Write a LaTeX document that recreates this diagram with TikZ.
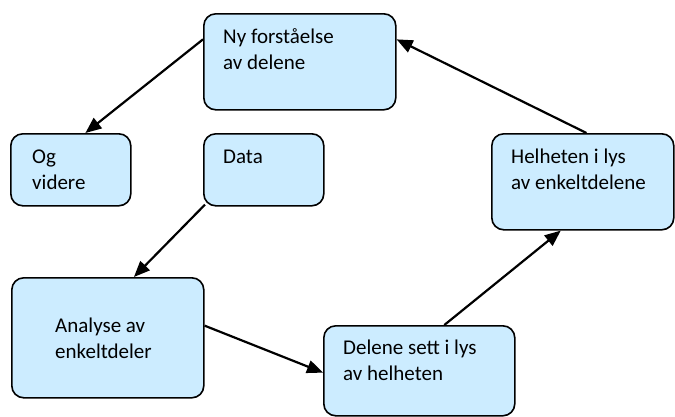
\documentclass[tikz,border=0pt]{standalone}
\usepackage{fontspec}
\setmainfont{Carlito}
\usetikzlibrary{arrows.meta,calc}
\definecolor{boxfill}{RGB}{204,236,255}
\tikzset{
  box/.style={draw=black, line width=1.6pt, fill=boxfill, rounded corners=12pt, inner sep=0pt, anchor=north west},
  lbl/.style={anchor=base west, inner sep=0pt, font=\fontsize{21}{26}\selectfont, align=left},
  conn/.style={line width=2.2pt, -{Triangle[length=16pt,width=13pt]}}
}
\begin{document}
\begin{tikzpicture}[x=1pt,y=-1pt]
\useasboundingbox (0,0) rectangle (675,416);
% boxes
\node[box, minimum width=192pt, minimum height=96pt] (ny) at (203,13) {};
\node[box, minimum width=120pt, minimum height=72pt] (og) at (10,133) {};
\node[box, minimum width=120pt, minimum height=72pt] (data) at (203,133) {};
\node[box, minimum width=192pt, minimum height=120pt] (ana) at (11,277) {};
\node[box, minimum width=191pt, minimum height=90pt] (del) at (323,325) {};
\node[box, minimum width=182pt, minimum height=96pt] (hel) at (491,133) {};
% labels (anchored at the baseline of their last line)
\node[lbl] (tny) at (223,69) {Ny forståelse\\av delene};
\node[lbl] (tog) at (32,189) {Og\\videre};
\node[lbl] (tdata) at (223,163) {Data};
\node[lbl] (tana) at (55,358) {Analyse av\\enkeltdeler};
\node[lbl] (tdel) at (343,380) {Delene sett i lys\\av helheten};
\node[lbl] (thel) at (511,189) {Helheten i lys\\av enkeltdelene};
% connectors
\draw[conn] ($(ny.north west)!0.27!(ny.south west)$) -- ($(og.north west)!0.62!(og.north east)$);
\draw[conn] ($(data.south west)+(2,-2)$) -- ($(ana.north west)!0.635!(ana.north east)$);
\draw[conn] ($(ana.north east)!0.4!(ana.south east)$) -- ($(del.north west)!0.52!(del.south west)$);
\draw[conn] ($(del.north west)!0.63!(del.north east)$) -- ($(hel.south west)!0.38!(hel.south east)$);
\draw[conn] ($(hel.north west)!0.52!(hel.north east)$) -- ($(ny.north east)!0.27!(ny.south east)$);
\end{tikzpicture}
\end{document}
